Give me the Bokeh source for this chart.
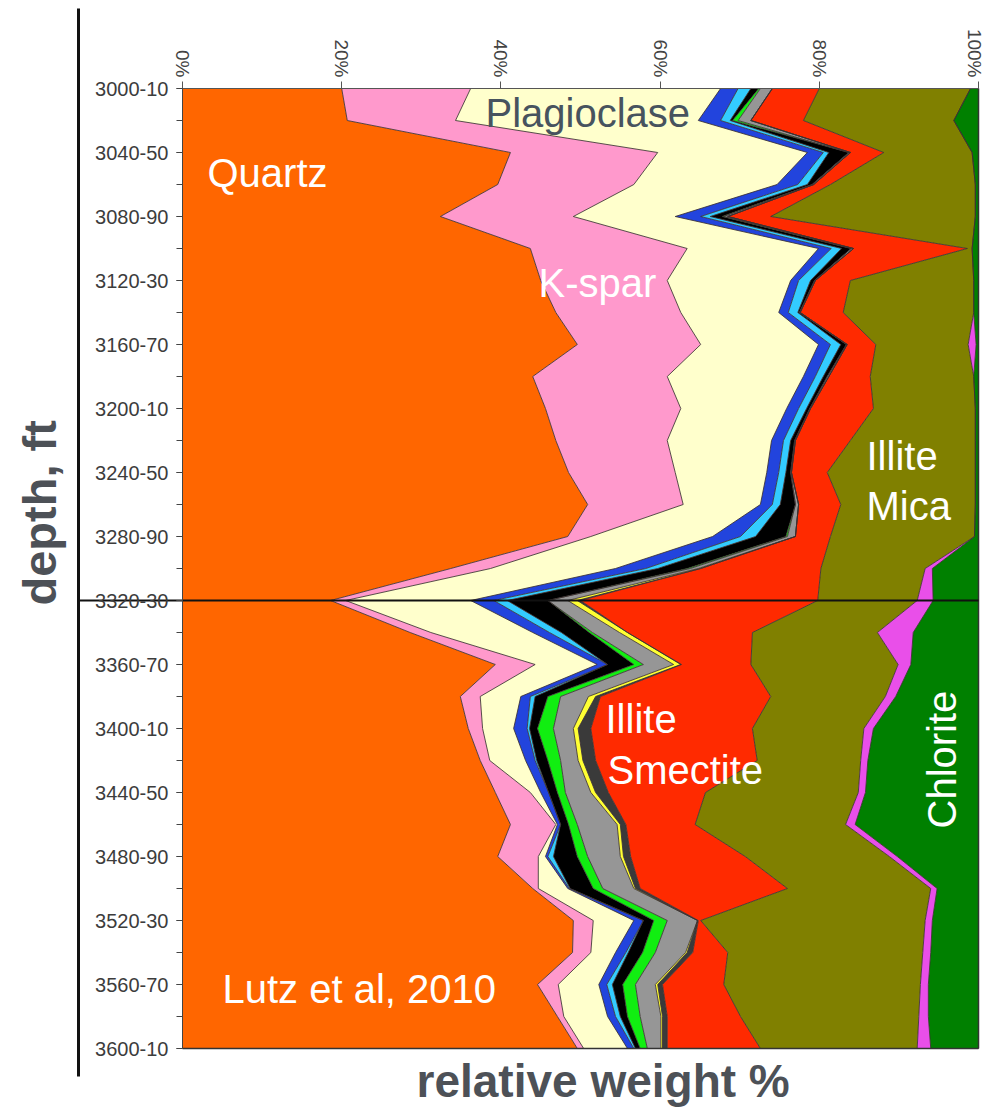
import math

from bokeh.core.properties import value
from bokeh.embed import file_html
from bokeh.models import ColumnDataSource, FixedTicker, Range1d
from bokeh.plotting import figure
from bokeh.resources import INLINE

# ---- sample depths (top of each 10 ft interval, one sample every 20 ft) ----
depth = list(range(3000, 3601, 20))

depth_ticks = [3000, 3040, 3080, 3120, 3160, 3200, 3240, 3280,
               3320, 3360, 3400, 3440, 3480, 3520, 3560, 3600]
depth_tick_labels = ["3000-10", "3040-50", "3080-90", "3120-30", "3160-70",
                     "3200-10", "3240-50", "3280-90", "3320-30", "3360-70",
                     "3400-10", "3440-50", "3480-90", "3520-30", "3560-70",
                     "3600-10"]
pct_ticks = [0, 20, 40, 60, 80, 100]
pct_tick_labels = ["0%", "20%", "40%", "60%", "80%", "100%"]

# ---- relative weight % of each mineral, top to bottom ----
quartz = [20.0, 20.7, 41.2, 39.6, 32.4, 43.7, 45.0, 46.9, 49.6, 44.0, 45.6,
          46.9, 48.5, 50.9, 48.4, 33.7, 18.6, 28.6, 39.3, 34.9, 35.9, 37.4,
          39.3, 41.2, 39.6, 44.0, 49.1, 49.0, 44.6, 47.1, 49.6]
kspar = [16.2, 13.6, 18.5, 17.1, 16.7, 19.7, 15.9, 15.7, 15.5, 16.9, 17.0,
         14.0, 13.4, 12.0, 2.9, 5.0, 1.9, 2.6, 5.0, 2.5, 1.8, 1.2,
         4.4, 5.7, 5.1, 0.7, 2.5, 2.3, 2.6, 0.8, 0.8]
plagioclase = [31.4, 30.5, 18.8, 18.0, 12.8, 16.5, 15.5, 12.3, 14.8, 17.1,
               13.3, 13.1, 11.5, 9.7, 15.3, 15.7, 15.7, 12.8, 7.8, 5.1, 3.9,
               4.5, 1.3, 0.2, 0.9, 3.7, 5.1, 3.1, 5.1, 5.5, 5.5]
mineral_a = [2.2, 2.8, 2.0, 2.6, 3.2, 1.6, 1.0, 1.2, 1.5, 1.5, 1.5, 1.5, 1.5,
             1.5, 3.5, 3.8, 2.9, 2.1, 1.3, 1.2, 1.7, 1.2, 1.0, 0.4, 0.3, 0.2,
             1.2, 1.3, 1.0, 1.0, 0.8]
mineral_b = [1.6, 1.2, 0.7, 1.2, 1.2, 1.3, 1.5, 1.2, 1.3, 1.0, 1.0, 0.9, 0.9,
             1.0, 1.9, 1.5, 1.7, 1.5, 0.0, 0.6, 0.3, 0.2, 0.0, 0.0, 0.7, 0.1,
             0.0, 0.3, 0.7, 0.6, 0.2]
mineral_c = [1.0, 0.3, 2.5, 0.6, 1.5, 1.2, 0.5, 0.2, 0.7, 0.5, 0.4, 0.5, 0.6,
             1.9, 3.8, 3.7, 5.1, 3.5, 3.3, 1.6, 1.0, 1.4, 1.1, 1.0, 3.0, 2.9,
             1.3, 1.8, 1.3, 0.9, 0.6]
mineral_d = [0.2, 0.7, 0.0, 0.0, 0.2, 0.0, 0.0, 0.0, 0.0, 0.0, 0.0, 0.0, 0.0,
             0.0, 0.2, 0.4, 0.0, 0.4, 1.2, 1.6, 2.0, 1.6, 1.0, 1.1, 1.3, 1.2,
             1.7, 1.6, 1.6, 1.6, 0.9]
mineral_e = [1.5, 1.6, 0.2, 0.2, 0.5, 0.3, 0.1, 0.1, 0.1, 0.2, 0.1, 0.1, 0.1,
             0.4, 1.0, 1.0, 2.5, 3.4, 3.8, 3.5, 2.5, 2.2, 3.2, 5.0, 4.1, 3.9,
             3.8, 3.8, 2.5, 2.6, 1.7]
mineral_f = [0.0, 0.0, 0.0, 0.0, 0.0, 0.0, 0.0, 0.0, 0.0, 0.0, 0.0, 0.0, 0.0,
             0.0, 0.0, 0.3, 1.2, 1.0, 0.9, 0.9, 0.6, 0.6, 0.6, 0.4, 0.4, 0.2,
             0.0, 0.2, 0.3, 0.2, 0.2]
mineral_g = [0.0, 0.0, 0.0, 0.0, 0.0, 0.0, 0.0, 0.0, 0.0, 0.0, 0.0, 0.0, 0.0,
             0.0, 0.0, 0.0, 0.4, 0.0, 0.1, 0.6, 1.6, 1.6, 1.6, 0.7, 0.9, 0.6,
             0.1, 0.7, 0.6, 0.6, 0.6]
illite_smectite = [5.9, 6.6, 4.2, 2.1, 5.4, 14.3, 4.4, 5.4, 3.6, 5.2, 7.9,
                   6.9, 4.5, 5.3, 4.4, 15.1, 29.8, 15.7, 8.7, 21.4, 20.3, 20.3,
                   12.2, 8.7, 14.4, 18.5, 0.3, 4.4, 7.7, 9.2, 11.7]
illite_mica = [19.0, 18.9, 11.1, 18.2, 25.7, 0.6, 15.5, 16.4, 11.6, 13.0,
               12.8, 15.7, 18.6, 16.9, 18.1, 13.1, 12.5, 15.7, 18.5, 14.4,
               14.0, 13.0, 19.2, 18.9, 18.1, 18.0, 28.2, 24.5, 24.7, 22.4, 19.7]
mineral_h = [0.0, 0.0, 0.0, 0.0, 0.0, 0.0, 0.0, 0.0, 1.0, 0.0, 0.0, 0.0, 0.0,
             0.0, 0.0, 0.9, 2.0, 4.5, 1.6, 1.3, 1.2, 0.9, 0.9, 1.2, 1.0, 0.8,
             0.9, 1.0, 1.0, 1.2, 1.7]
chlorite = [1.0, 3.1, 0.8, 0.4, 0.4, 0.8, 0.6, 0.6, 0.3, 0.6, 0.4, 0.4, 0.4,
            0.4, 0.5, 5.8, 5.7, 8.2, 8.5, 10.4, 13.2, 13.9, 14.2, 15.5, 10.2,
            5.2, 5.8, 6.0, 6.3, 6.3, 6.0]

layers = ["quartz", "kspar", "plagioclase", "mineral_a", "mineral_b",
          "mineral_c", "mineral_d", "mineral_e", "mineral_f", "mineral_g",
          "illite_smectite", "illite_mica", "mineral_h", "chlorite"]
colors = ["#FF6600", "#FF99CC", "#FFFFCC", "#2244DD", "#33CCFF", "#000000",
          "#11EE11", "#969696", "#FFFF33", "#3A3A3A", "#FF2A00", "#808000",
          "#E94FE9", "#008000"]

source = ColumnDataSource(dict(
    depth=depth, quartz=quartz, kspar=kspar, plagioclase=plagioclase,
    mineral_a=mineral_a, mineral_b=mineral_b, mineral_c=mineral_c,
    mineral_d=mineral_d, mineral_e=mineral_e, mineral_f=mineral_f,
    mineral_g=mineral_g, illite_smectite=illite_smectite,
    illite_mica=illite_mica, mineral_h=mineral_h, chlorite=chlorite))

# ---- canvas geometry: the frame fills the whole page ----
W, H = 984, 1111
PX_PER_PCT = 7.96          # horizontal pixels per percent
X0_PX, Y0_PX = 182, 88     # pixel position of (0 %, 3000 ft)
FT_PER_PX = 0.625          # vertical feet per pixel


def px_to_pct(px):
    return (px - X0_PX) / PX_PER_PCT


def py_to_ft(py):
    return 3000 + (py - Y0_PX) * FT_PER_PX


p = figure(width=W, height=H, output_backend="svg", toolbar_location=None,
           x_range=Range1d(px_to_pct(0), px_to_pct(W)),
           y_range=Range1d(py_to_ft(H), py_to_ft(0)),
           x_axis_location="above", y_axis_location="left",
           min_border=0, min_border_left=0, min_border_right=0,
           min_border_top=0, min_border_bottom=0,
           outline_line_color=None, background_fill_color="white",
           border_fill_color="white")
p.title.visible = False
p.xgrid.visible = False
p.ygrid.visible = False

# stacked mineral areas
p.harea_stack(layers, y="depth", color=colors, source=source)
# thin dark outlines along each stacked boundary
p.hline_stack(layers, y="depth", color="#3b3030", line_width=1,
              line_alpha=0.85, source=source)

# plot-area border on the right and bottom
p.segment(x0=[100, 0], y0=[3000, 3600], x1=[100, 100], y1=[3600, 3600],
          color="#333333", line_width=1.5)

# separator between the two sections and the rule on the left
p.segment(x0=[px_to_pct(78)], y0=[3320], x1=[100], y1=[3320],
          color="#111111", line_width=2)
p.segment(x0=[px_to_pct(78)], y0=[py_to_ft(8)], x1=[px_to_pct(78)],
          y1=[py_to_ft(1076)], color="#111111", line_width=3)

# ---- axes ----
xa = p.xaxis[0]
xa.fixed_location = 3000
xa.bounds = (0, 100)
xa.ticker = FixedTicker(ticks=pct_ticks)
xa.major_label_overrides = {t: s for t, s in zip(pct_ticks, pct_tick_labels)}
xa.major_label_orientation = -math.pi / 2
xa.major_label_text_font = "Liberation Sans"
xa.major_label_text_font_size = "19px"
xa.major_label_text_color = "#444444"
xa.major_label_standoff = 4
xa.axis_line_color = "#555555"
xa.major_tick_line_color = "#555555"
xa.major_tick_out = 7
xa.major_tick_in = 0
xa.minor_tick_out = 0
xa.minor_tick_in = 0

ya = p.yaxis[0]
ya.fixed_location = 0
ya.bounds = (3000, 3600)
ya.ticker = FixedTicker(ticks=depth_ticks, minor_ticks=depth)
ya.major_label_overrides = {t: s for t, s in zip(depth_ticks, depth_tick_labels)}
ya.major_label_text_font = "Liberation Sans"
ya.major_label_text_font_size = "20px"
ya.major_label_text_color = "#3c3c3c"
ya.major_label_standoff = 8
ya.axis_line_color = "#444444"
ya.major_tick_line_color = "#444444"
ya.minor_tick_line_color = "#444444"
ya.major_tick_out = 6
ya.major_tick_in = 0
ya.minor_tick_out = 6
ya.minor_tick_in = 0

# ---- mineral names (anchored at the vertical middle of the text) ----
font = value("Liberation Sans")
big = value("40px")


def label(x_px, y_px, text, color="white", angle=0.0, size=big, style="normal"):
    p.text(x=[px_to_pct(x_px)], y=[py_to_ft(y_px)], text=[text], angle=angle,
           text_font=font, text_font_size=size, text_color=color,
           text_font_style=style, text_align="left",
           text_baseline="middle")


label(207, 172, "Quartz")
label(485, 112, "Plagioclase", color="#47535E")
label(538, 282, "K-spar")
label(866, 455, "Illite")
label(866, 505, "Mica")
label(605, 718, "Illite")
label(607, 769, "Smectite")
label(941, 828, "Chlorite", angle=math.pi / 2)
label(222, 988, "Lutz et al, 2010")

# axis titles
label(39, 605, "depth, ft", color="#4D5157", angle=math.pi / 2,
      size=value("47px"), style="bold")
label(416, 1080, "relative weight %", color="#4D5157",
      size=value("46px"), style="bold")

open("out.html", "w").write(file_html(p, INLINE))
